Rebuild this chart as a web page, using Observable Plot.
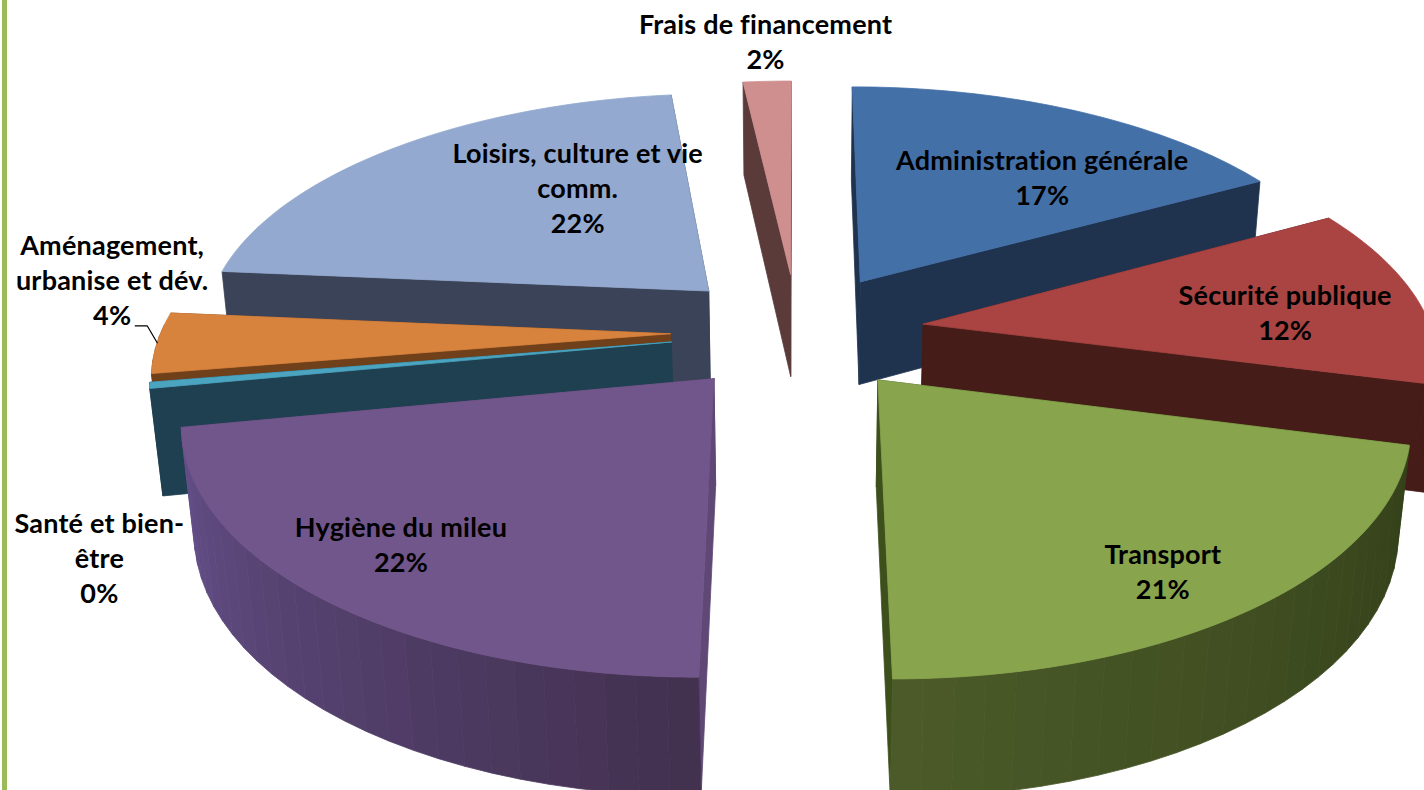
<!DOCTYPE html>
<html lang="fr">
<head>
<meta charset="utf-8">
<title>Répartition des dépenses</title>
<style>
  html, body { margin: 0; padding: 0; background: #fff; overflow: hidden; }
  #chart { position: absolute; left: 0; top: 0; }
  #chart svg { display: block; background: transparent; }
  #chart text { letter-spacing: 0.2px; }
  #bar { position: absolute; left: 2px; top: 0; width: 5px; height: 790px; background: #9bbb59; z-index: 2; }
</style>
<script src="https://cdn.jsdelivr.net/npm/d3@7"></script>
<script src="https://cdn.jsdelivr.net/npm/@observablehq/plot@0.6"></script>
</head>
<body>
<div id="bar"></div>
<div id="chart"></div>
<script>
// ---- Data (clockwise from the top of the pie) ----
const categories = ["Administration générale", "Sécurité publique", "Transport", "Hygiène du mileu",
  "Santé et bien-\nêtre", "Aménagement,\nurbanise et dév.", "Loisirs, culture et vie\ncomm.", "Frais de financement"];
const shares = [17, 12, 21, 22, 0.4, 4, 21.8, 1.8];
const topColors  = ["#4470a8", "#a94442", "#88a44d", "#71568c", "#4ba5c0", "#d8833d", "#93a9cf", "#ce8f8e"];
const wallColors = ["#1f334f", "#451c17", "#3d501c", "#5f4876", "#1f4050", "#70401a", "#3b4358", "#5a3b3a"];
const rimStart   = ["#1f334f", "#451c17", "#34411a", "#42304f", "#1f4050", "#70401a", "#3b4358", "#5a3b3a"];
const rimEnd     = ["#1f334f", "#451c17", "#4b5a28", "#65508a", "#1f4050", "#70401a", "#3b4358", "#5a3b3a"];
// label offset from each slice's inner corner
const labelDx = [182, 362, 285, -313, -572, -558, -131, -25];
const labelDy = [-106, -13, 190, 165, 215, -55, -104, -234];
// painter's order, far to near
const drawOrder = [7, 0, 1, 6, 5, 4, 3, 2];

// ---- Perspective model of the exploded pie ----
const view = {cx: 797, cy: 331, rx: 509, ry: 238, persp: 0.15, explode: 0.25, depth: 107, sink: 0.02};
const rad = d => d * Math.PI / 180;
function project(X, Y, bottom) {
  const w = 1 + view.persp * Y + (bottom ? view.sink : 0);
  return {x: view.cx + view.rx * X / w, y: view.cy + (-view.ry * Y + (bottom ? view.depth : 0)) / w};
}
const total = d3.sum(shares);
let acc = 0;
const slices = shares.map((s, i) => {
  const a0 = acc / total * 360; acc += s;
  const a1 = acc / total * 360;
  const mid = rad((a0 + a1) / 2);
  return {i, a0, a1, ox: view.explode * Math.sin(mid), oy: view.explode * Math.cos(mid)};
});
const rimPoint = (sl, deg, bottom) => project(sl.ox + Math.sin(rad(deg)), sl.oy + Math.cos(rad(deg)), bottom);
const apexPoint = (sl, bottom) => project(sl.ox, sl.oy, bottom);

const faces = [];
let faceId = 0;
function addFace(pts, fill) {
  const id = faceId++;
  [...pts, pts[0]].forEach(p => faces.push({id, x: p.x, y: p.y, fill}));
}
for (const k of drawOrder) {
  const sl = slices[k];
  // radial walls, the farther one first
  const walls = [sl.a0, sl.a1].sort((a, b) => Math.cos(rad(b)) - Math.cos(rad(a)));
  for (const a of walls) {
    addFace([apexPoint(sl, false), rimPoint(sl, a, false), rimPoint(sl, a, true), apexPoint(sl, true)], wallColors[k]);
  }
  // curved outer wall, only where it faces the viewer, in broad shaded bands
  const mix = d3.interpolateRgb(rimStart[k], rimEnd[k]);
  const bands = Math.max(1, Math.ceil((sl.a1 - sl.a0) / 3));
  for (let j = 0; j < bands; j++) {
    const d0 = sl.a0 + (sl.a1 - sl.a0) * j / bands;
    const d1 = sl.a0 + (sl.a1 - sl.a0) * (j + 1) / bands;
    if (Math.cos(rad((d0 + d1) / 2)) > 0.02) continue;
    addFace([rimPoint(sl, d0, false), rimPoint(sl, d1, false), rimPoint(sl, d1, true), rimPoint(sl, d0, true)],
      d3.rgb(mix((j + 0.5) / bands)).formatHex());
  }
  // top surface
  const n = Math.max(1, Math.ceil((sl.a1 - sl.a0) / 1.5));
  const top = [apexPoint(sl, false)];
  for (let j = 0; j <= n; j++) top.push(rimPoint(sl, sl.a0 + (sl.a1 - sl.a0) * j / n, false));
  addFace(top, topColors[k]);
}

// ---- Labels ----
const labelMarks = slices.map(sl => {
  const p = apexPoint(sl, false);
  const text = `${categories[sl.i]}\n${Math.round(shares[sl.i])}%`;
  return Plot.text([{x: p.x, y: p.y, text}], {
    x: "x", y: "y", text: "text",
    dx: labelDx[sl.i], dy: labelDy[sl.i],
    textAnchor: "middle", lineAnchor: "middle", lineHeight: 1.3,
    fontFamily: "Lato", fontWeight: "bold", fontSize: 27, fill: "#000"
  });
});

// leader line from the "4%" label to the rim of its slice
const leaderFrom = rimPoint(slices[5], (slices[5].a0 + slices[5].a1) / 2, false);
const leader = [
  {x: leaderFrom.x, y: leaderFrom.y},
  {x: leaderFrom.x - 10, y: leaderFrom.y - 17},
  {x: leaderFrom.x - 22, y: leaderFrom.y - 17}
];

const chart = Plot.plot({
  width: 1424,
  height: 790,
  margin: 0,
  style: {background: "transparent"},
  x: {domain: [0, 1424], range: [0, 1424], axis: null},
  y: {domain: [0, 790], range: [0, 790], axis: null},
  color: {type: "identity"},
  marks: [
    Plot.line(faces, {x: "x", y: "y", z: "id", fill: "fill", stroke: "fill", strokeWidth: 0.8, curve: "linear"}),
    Plot.line(leader, {x: "x", y: "y", stroke: "#000", strokeWidth: 1.2}),
    ...labelMarks
  ]
});
document.getElementById("chart").appendChild(chart);
</script>
</body>
</html>
